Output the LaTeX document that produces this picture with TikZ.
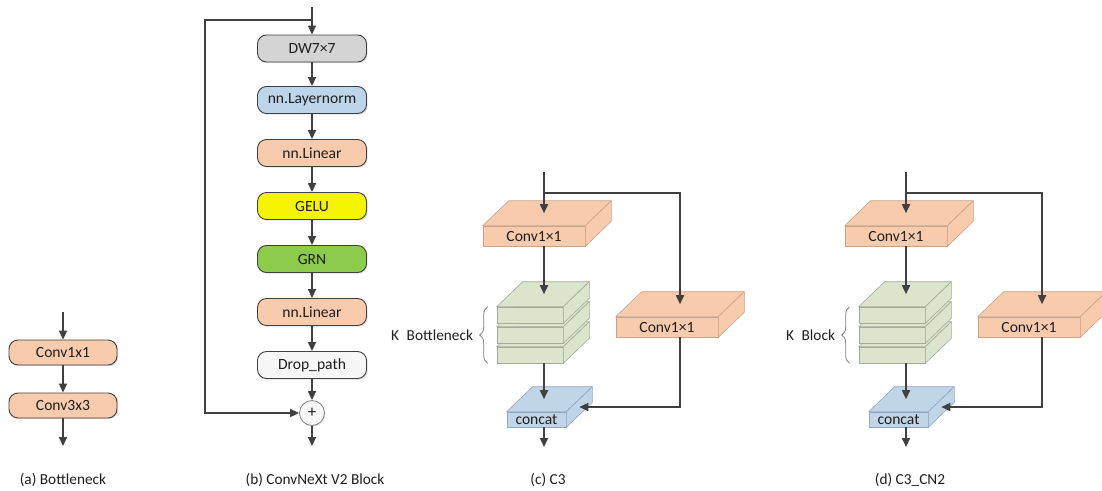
\documentclass[tikz,border=0pt]{standalone}
\usepackage{fontspec}
\setmainfont{Carlito}
\usetikzlibrary{arrows.meta,calc,decorations.pathreplacing,shadows}

\definecolor{linegray}{HTML}{404040}
\definecolor{txtgray}{HTML}{1E1E1E}
\definecolor{dwgray}{HTML}{D4D4D4}
\definecolor{lnblue}{HTML}{BDD5EB}
\definecolor{peach}{HTML}{F8CBAD}
\definecolor{peachedge}{HTML}{C9A48B}
\definecolor{geluyellow}{HTML}{F5F500}
\definecolor{grngreen}{HTML}{8DCB4C}
\definecolor{dropwhite}{HTML}{F7F7F7}
\definecolor{stackgreen}{HTML}{DAE5CC}
\definecolor{stackedge}{HTML}{A3AC96}
\definecolor{catblue}{HTML}{C1D5E9}
\definecolor{catedge}{HTML}{93A8BF}

\tikzset{
  flow/.style={draw=linegray, line width=1.7pt, -{Triangle[length=9pt,width=8pt]}},
  line/.style={draw=linegray, line width=1.7pt},
  blk/.style={rectangle, rounded corners=9pt, draw=linegray, line width=0.9pt,
    minimum width=108pt, minimum height=26pt, inner sep=0pt, text=txtgray,
    font=\fontsize{15.6}{18}\selectfont,
    drop shadow={opacity=0.25, shadow xshift=1.2pt, shadow yshift=-1.2pt}},
  slab/.style={rectangle, draw=#1, line width=0.6pt, inner sep=0pt, text=txtgray,
    font=\fontsize{15.6}{18}\selectfont},
  brace/.style={draw=gray, line width=0.8pt, decorate,
    decoration={brace, amplitude=8pt}},
  caption/.style={text=txtgray, font=\fontsize{15.3}{18}\selectfont}
}

% top and side faces of a flat 3D box, drawn on a front node
\newcommand{\slabfaces}[3]{%
  \filldraw[fill=#3, draw=#2, line width=0.6pt, line join=round]
    (#1.north west) -- ++(26,-25) -- ($(#1.north east)+(26,-25)$) -- (#1.north east) -- cycle;
  \filldraw[fill=#3, draw=#2, line width=0.6pt, line join=round]
    (#1.north east) -- ++(26,-25) -- ($(#1.south east)+(26,-25)$) -- (#1.south east) -- cycle;
  \coordinate (#1-top) at ($(#1.north)+(13,-12.5)$);
  \coordinate (#1-side) at ($(#1.east)+(13,-12.5)$);
}

\begin{document}
\begin{tikzpicture}[x=1pt, y=-1pt]
  \useasboundingbox (0,0) rectangle (1102,490);

  % (a) Bottleneck
  \coordinate (a-in) at (63,312);
  \coordinate (a-out) at (63,446);
  \node[blk, fill=peach, minimum height=25pt] (a1) at (63,352.5) {Conv1x1};
  \node[blk, fill=peach, minimum height=25pt] (a2) at (63,405.5) {Conv3x3};
  \draw[flow] (a-in) -- (a1);
  \draw[flow] (a1) -- (a2);
  \draw[flow] (a2) -- (a-out);
  \node[caption] (a-cap) at (63,480) {(a) Bottleneck};

  % (b) ConvNeXt V2 block
  \coordinate (b-in) at (312,7);
  \coordinate (b-split) at (312,20);
  \coordinate (b-loop) at (205,20);
  \coordinate (b-out) at (312,446);
  \node[blk, fill=dwgray, minimum width=109pt, minimum height=27pt] (b1) at (312,48.5) {DW7×7};
  \node[blk, fill=lnblue, minimum width=109pt, minimum height=27pt] (b2) at (312,100) {nn.Layernorm};
  \node[blk, fill=peach, minimum width=109pt, minimum height=27pt] (b3) at (312,153) {nn.Linear};
  \node[blk, fill=geluyellow, minimum width=109pt, minimum height=27pt] (b4) at (312,206) {GELU};
  \node[blk, fill=grngreen, minimum width=109pt, minimum height=27pt] (b5) at (312,259) {GRN};
  \node[blk, fill=peach, minimum width=109pt, minimum height=27pt] (b6) at (312,312) {nn.Linear};
  \node[blk, fill=dropwhite, minimum width=109pt, minimum height=27pt] (b7) at (312,365) {Drop\_path};
  \node[circle, draw=gray, fill=dropwhite, line width=0.8pt, minimum size=25pt, inner sep=0pt,
    font=\fontsize{17}{18}\selectfont, text=txtgray,
    drop shadow={opacity=0.2, shadow xshift=1pt, shadow yshift=-1pt}] (bplus) at (312,413) {+};
  \draw[flow] (b-in) -- (b1);
  \foreach \i/\j in {b1/b2, b2/b3, b3/b4, b4/b5, b5/b6, b6/b7, b7/bplus}
    \draw[flow] (\i) -- (\j);
  \draw[flow] (b-split) -- (b-loop) |- (bplus);
  \draw[flow] (bplus) -- (b-out);
  \node[caption] (b-cap) at (315,480) {(b) ConvNeXt V2 Block};

  % (c) C3 and (d) C3_CN2
  \foreach \p/\dx/\k/\cap in {c/0/Bottleneck/(c) C3, d/362/Block/(d) C3\_CN2}{
    \begin{scope}[shift={(\dx,0)}]
      \coordinate (\p-in) at (544,172);
      \coordinate (\p-split) at (544,193);
      \coordinate (\p-out) at (544,447);
      % slabs
      \node[slab=peachedge, fill=peach, minimum width=102pt, minimum height=20pt] (\p-conv) at (534,236) {Conv1×1};
      \slabfaces{\p-conv}{peachedge}{peach}
      \node[slab=peachedge, fill=peach, minimum width=102pt, minimum height=20pt] (\p-right) at (667,327) {Conv1×1};
      \slabfaces{\p-right}{peachedge}{peach}
      \node[slab=stackedge, fill=stackgreen, minimum width=66pt, minimum height=16pt] (\p-k3) at (530,355) {};
      \slabfaces{\p-k3}{stackedge}{stackgreen}
      \node[slab=stackedge, fill=stackgreen, minimum width=66pt, minimum height=16pt] (\p-k2) at (530,335) {};
      \slabfaces{\p-k2}{stackedge}{stackgreen}
      \node[slab=stackedge, fill=stackgreen, minimum width=66pt, minimum height=16pt] (\p-k1) at (530,315) {};
      \slabfaces{\p-k1}{stackedge}{stackgreen}
      \node[slab=catedge, fill=catblue, minimum width=59pt, minimum height=15pt] (\p-cat) at (536.5,419.5) {concat};
      \slabfaces{\p-cat}{catedge}{catblue}
      % connectors
      \draw[flow] (\p-in) -- (\p-in |- \p-conv-top);
      \draw[flow] (\p-split) -| (\p-right-top);
      \draw[flow] (\p-in |- \p-conv.south) -- (\p-in |- \p-k1-top);
      \draw[flow] (\p-in |- \p-k3.south) -- (\p-in |- \p-cat-top);
      \draw[flow] (\p-right-top |- \p-right.south) |- (\p-cat-side);
      \draw[flow] (\p-in |- \p-cat.south) -- (\p-out);
      % brace and label
      \draw[brace] ($(\p-k3.south west)+(-9,0)$) -- ($(\p-k1.north west)+(-9,0)$)
        node[midway, anchor=east, xshift=-11pt, caption] (\p-klab) {K\enspace\k};
      \node[caption] (\p-cap) at (548,480) {\cap};
    \end{scope}
  }
\end{tikzpicture}
\end{document}
